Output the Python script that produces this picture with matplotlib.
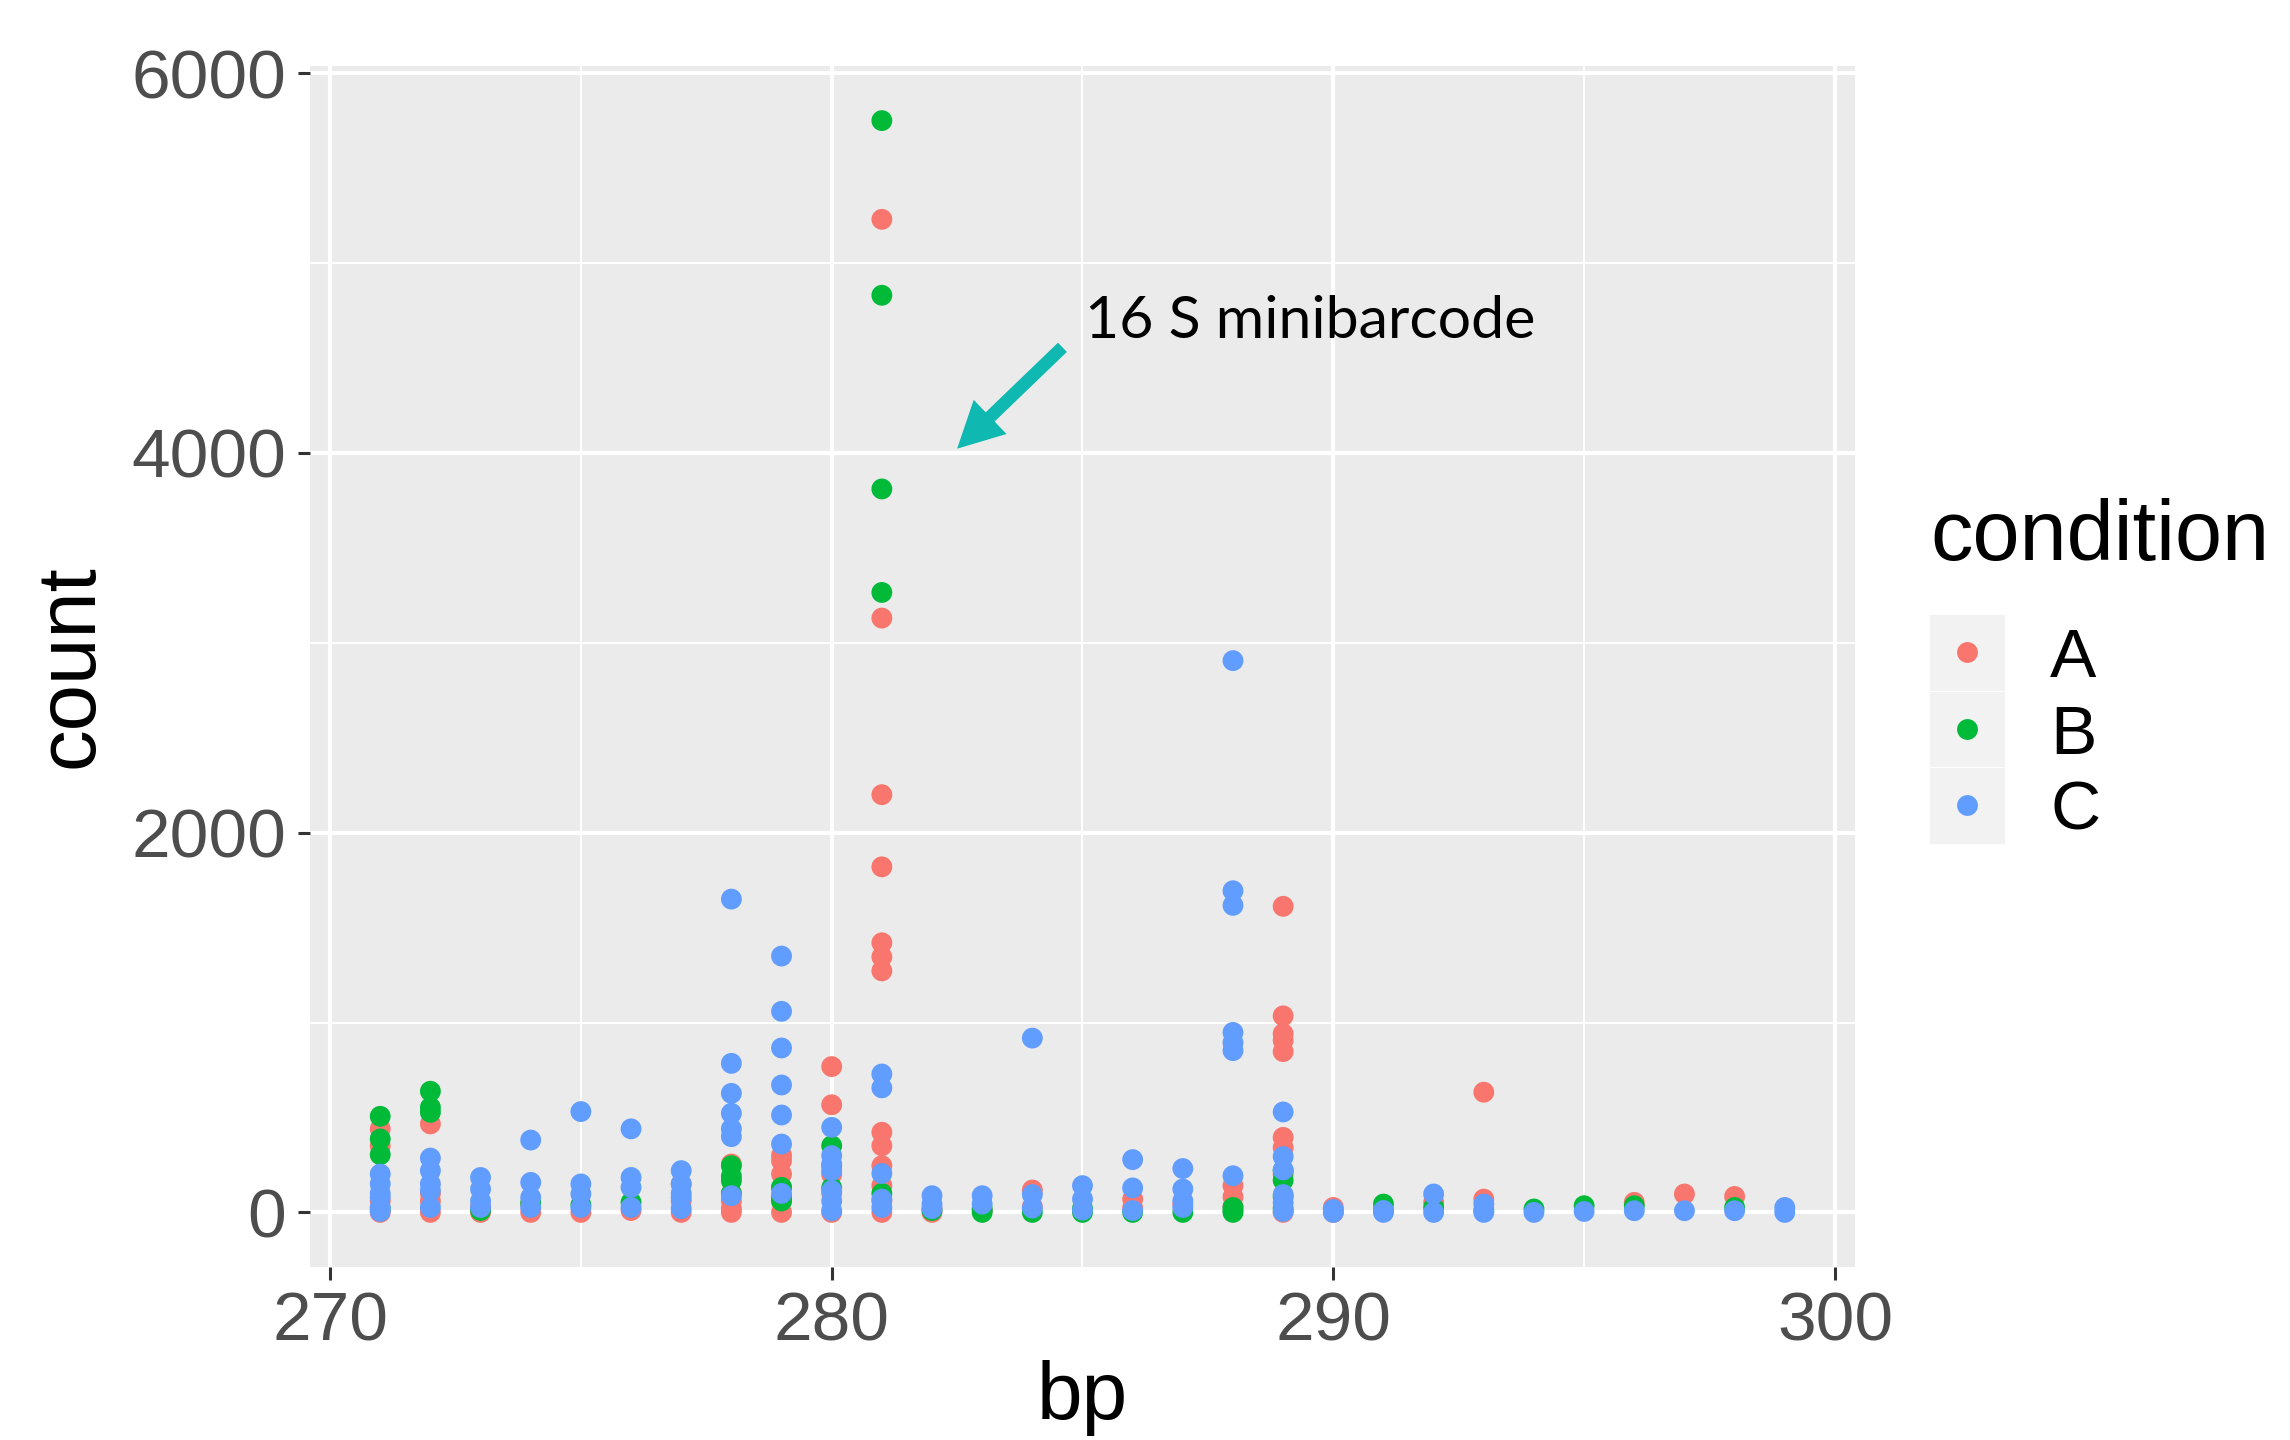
import matplotlib
matplotlib.use("Agg")
import matplotlib.pyplot as plt
from matplotlib.patches import Rectangle
from matplotlib.lines import Line2D

# fragment length (bp) and read counts per condition, one inner list per bp
bp = list(range(271, 300))

counts_A = [
    [440, 350, 60, 0], [466, 100, 60, 0], [30, 0], [40, 0], [0], [10],
    [150, 60, 0], [255, 100, 60, 20, 0], [300, 272, 202, 132, 60, 0],
    [768, 567, 200, 100, 0],
    [5230, 3130, 2200, 1820, 1420, 1346, 1272, 422, 351, 246, 141, 60, 0],
    [20, 0], [10], [118, 30], [10], [70, 23], [44], [141, 82, 30],
    [1612, 1035, 941, 906, 847, 395, 341, 200, 0],
    [26, 0], [], [53], [633, 70], [], [], [53], [97], [84], [],
]
counts_B = [
    [506, 387, 304, 20], [638, 553, 527], [10], [50], [40], [53], [],
    [246, 190, 167, 100], [132, 79, 60], [351, 246, 130],
    [5750, 4830, 3810, 3265, 100],
    [10], [0, 20], [0], [0, 20], [0], [0], [26, 0, 10], [220, 169, 82, 20],
    [], [44, 10], [26], [10], [18], [35], [35], [], [26], [],
]
counts_C = [
    [202, 150, 100, 79, 26, 5], [286, 220, 150, 115, 26], [184, 123, 60, 26],
    [381, 158, 79, 26], [531, 150, 97, 26], [440, 184, 132, 26],
    [220, 150, 100, 79, 20], [1650, 785, 627, 522, 440, 399, 88],
    [1350, 1059, 866, 671, 513, 360, 100], [448, 299, 255, 220, 115, 60, 9],
    [729, 656, 205, 70, 26], [88, 44, 20], [88, 44], [918, 94, 23],
    [141, 70, 12], [278, 129, 10], [231, 123, 61, 26],
    [2906, 1694, 1617, 948, 894, 852, 193], [529, 294, 224, 94, 50, 5],
    [15, 0], [10, 0], [97, 0], [44, 0], [0], [5], [9], [9], [9], [26, 0],
]

conditions = ["A", "B", "C"]
colors = ["#F8766D", "#00BA38", "#619CFF"]

arrow_tip = (282.5, 4022)
arrow_tail = (284.6, 4556)
note_pos = (285.05, 4604)
note_text = "16 S minibarcode"


def flatten(counts):
    xs, ys = [], []
    for b, vals in zip(bp, counts):
        for v in vals:
            xs.append(b)
            ys.append(v)
    return xs, ys


def main():
    plt.rcParams['font.family'] = ['Liberation Sans', 'DejaVu Sans']
    fig = plt.figure(figsize=(22.9, 14.4), dpi=100)
    ax = fig.add_axes([310 / 2290, 1 - 1267 / 1440, 1545 / 2290, 1201 / 1440])
    ax.set_facecolor("#EBEBEB")
    for s in ax.spines.values():
        s.set_visible(False)

    ax.set_xlim(269.6, 300.4)
    ax.set_ylim(-287.5, 6037.5)
    ax.set_xticks([270, 280, 290, 300])
    ax.set_yticks([0, 2000, 4000, 6000])
    ax.set_xticks([275, 285, 295], minor=True)
    ax.set_yticks([1000, 3000, 5000], minor=True)
    ax.grid(which='major', color='white', lw=3.0)
    ax.grid(which='minor', color='white', lw=1.5)
    ax.set_axisbelow(True)
    ax.tick_params(which='major', length=9, width=2.2, color='#333333',
                   labelsize=50, labelcolor='#4D4D4D', pad=8)
    ax.tick_params(which='minor', length=0)

    for counts, col in zip([counts_A, counts_B, counts_C], colors):
        xs, ys = flatten(counts)
        ax.scatter(xs, ys, s=225, color=col, edgecolors='none', zorder=3)

    ax.annotate('', xy=arrow_tip, xytext=arrow_tail,
                arrowprops=dict(arrowstyle='simple,head_length=1.5,head_width=1.55,tail_width=0.42',
                                mutation_scale=22, color='#0FB8B0', lw=0,
                                shrinkA=0, shrinkB=0), zorder=4)
    ax.text(note_pos[0], note_pos[1], note_text, fontsize=42.5, family=['Lato', 'DejaVu Sans'],
            ha='left', va='baseline', color='black', zorder=4)

    ax.set_xlabel("bp", fontsize=59, labelpad=4)
    ax.set_ylabel("count", fontsize=60, labelpad=16)

    # legend drawn in figure pixels, ggplot style
    W, H = 2290, 1440
    fig.text(1930 / W, 1 - 560 / H, "condition", fontsize=61, ha='left', va='baseline')
    key_y = [652, 729, 805]
    for i, (lab, col) in enumerate(zip(conditions, colors)):
        top = 614 + i * 76.7
        fig.patches.append(Rectangle((1929 / W, 1 - (top + 76.7) / H), 76 / W, 76.7 / H,
                                     transform=fig.transFigure, facecolor='#F2F2F2',
                                     edgecolor='white', lw=0.6))
        fig.lines.append(Line2D([1967 / W], [1 - key_y[i] / H], transform=fig.transFigure,
                                marker='o', markersize=15, color=col, markeredgewidth=0, ls=''))
        fig.text(2050 / W, 1 - key_y[i] / H, lab, fontsize=50, ha='left', va='center_baseline')

    fig.savefig("out.png", dpi=100, facecolor='white')


if __name__ == '__main__':
    main()
